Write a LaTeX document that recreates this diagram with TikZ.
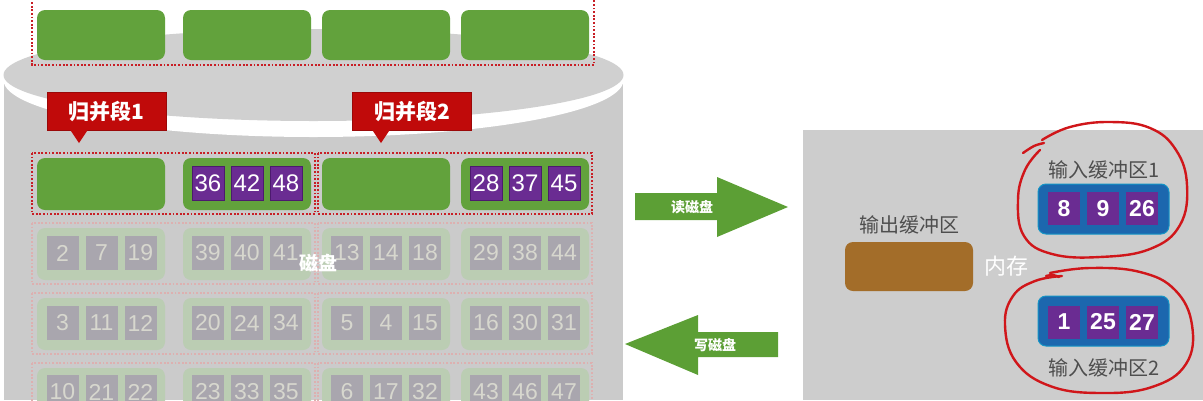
\documentclass[tikz,border=0pt]{standalone}
\usepackage{fontspec}
\setmainfont{Liberation Sans}
\newfontfamily\cjk{Noto Sans CJK SC}
\definecolor{grn}{HTML}{62A23C}
\definecolor{fgrn}{HTML}{BBCDB3}
\definecolor{pur}{HTML}{6A2C92}
\definecolor{purd}{HTML}{4C1A6E}
\definecolor{fpur}{HTML}{A9A6AE}
\definecolor{ftxt}{HTML}{D7D7CE}
\definecolor{diskgray}{HTML}{CBCBCB}
\definecolor{facegray}{HTML}{D0D0D0}
\definecolor{memgray}{HTML}{CDCDCD}
\definecolor{lblred}{HTML}{C00A0A}
\definecolor{dotred}{HTML}{C81E25}
\definecolor{fdot}{HTML}{DDB0B0}
\definecolor{arrgrn}{HTML}{5C9F35}
\definecolor{brown}{HTML}{A36D29}
\definecolor{bufblue}{HTML}{1C67AE}
\definecolor{txtgray}{HTML}{4E4E4E}
\definecolor{inkred}{HTML}{D0161A}
\tikzset{
  grbox/.style={fill=grn, rounded corners=8pt, minimum width=128pt, minimum height=52pt, inner sep=0pt},
  fgrbox/.style={fill=fgrn, rounded corners=8pt, minimum width=128pt, minimum height=52pt, inner sep=0pt},
  sq/.style={fill=pur, draw=purd, line width=0.8pt, minimum width=32pt, minimum height=34pt, inner sep=0pt, text=white, font=\fontsize{24}{24}\selectfont},
  fsq/.style={fill=fpur, minimum width=32pt, minimum height=34pt, inner sep=0pt, text=ftxt, font=\fontsize{23}{23}\selectfont},
  bsq/.style={fill=pur, minimum width=32pt, minimum height=33pt, inner sep=0pt, text=white, font=\bfseries\fontsize{23}{23}\selectfont},
  seg/.style={draw=dotred, line width=2.6pt, dash pattern=on 1.8pt off 1.8pt},
  fseg/.style={draw=fdot, line width=2.2pt, dash pattern=on 1.8pt off 1.8pt},
  lbl/.style={fill=lblred, draw=lblred!80!black, line width=0.6pt, minimum width=119pt, minimum height=38pt, inner sep=0pt, text=white, font=\cjk\bfseries\fontsize{21}{21}\selectfont},
  arrtxt/.style={text=white, font=\cjk\bfseries\fontsize{14}{14}\selectfont},
  memtxt/.style={text=txtgray, font=\cjk\fontsize{20}{20}\selectfont},
  buf/.style={fill=bufblue, draw=bufblue!70!cyan, line width=1pt, rounded corners=8pt, minimum width=131pt, minimum height=50pt, inner sep=0pt},
  ink/.style={draw=inkred, line width=2.4pt, line cap=round, line join=round},
}
\newcommand\sqtrio[7]{%
  \node[#4] (#1a) at (#2-39,#3) {#5};
  \node[#4] (#1b) at (#2,#3) {#6};
  \node[#4] (#1c) at (#2+39,#3) {#7};
}
\begin{document}
\begin{tikzpicture}[x=1pt,y=-1pt]
\useasboundingbox (0,0) rectangle (1203,400);
% ---------------- disk cylinder ----------------
\fill[diskgray] (4,80) rectangle (623,400);
\fill[white] (313.5,80) ellipse [x radius=310, y radius=57];
\fill[facegray] (313.5,75) ellipse [x radius=310, y radius=46];
% top row
\draw[seg] (32,-5) rectangle (594,65);
\node[grbox, minimum height=50pt] (t1) at (101,35) {};
\node[grbox, minimum height=50pt] (t2) at (247,35) {};
\node[grbox, minimum height=50pt] (t3) at (386,35) {};
\node[grbox, minimum height=50pt] (t4) at (525,35) {};
% faded rows
\foreach \k in {1,2,3} {
  \draw[fseg] (32,153+70*\k) rectangle (315,214+70*\k);
  \draw[fseg] (318,153+70*\k) rectangle (592,214+70*\k);
  \node[fgrbox] (f\k a) at (101,184+70*\k) {};
  \node[fgrbox] (f\k b) at (247,184+70*\k) {};
  \node[fgrbox] (f\k c) at (386,184+70*\k) {};
  \node[fgrbox] (f\k d) at (525,184+70*\k) {};
}
\sqtrio{p1a}{101.5}{253}{fsq}{2}{7}{19}
\sqtrio{p1b}{247}{253}{fsq}{39}{40}{41}
\sqtrio{p1c}{386}{253}{fsq}{13}{14}{18}
\sqtrio{p1d}{525}{253}{fsq}{29}{38}{44}
\sqtrio{p2a}{101.5}{323}{fsq}{3}{11}{12}
\sqtrio{p2b}{247}{323}{fsq}{20}{24}{34}
\sqtrio{p2c}{386}{323}{fsq}{5}{4}{15}
\sqtrio{p2d}{525}{323}{fsq}{16}{30}{31}
\sqtrio{p3a}{101.5}{392}{fsq}{10}{21}{22}
\sqtrio{p3b}{247}{392}{fsq}{23}{33}{35}
\sqtrio{p3c}{386}{392}{fsq}{6}{17}{32}
\sqtrio{p3d}{525}{392}{fsq}{43}{46}{47}
\node[text=white, font=\cjk\bfseries\fontsize{19}{19}\selectfont] (disk) at (318,263) {磁盘};
% active row
\draw[seg] (32,153) rectangle (315,214);
\draw[seg] (318,153) rectangle (592,214);
\node[grbox] (g1) at (101,184) {};
\node[grbox] (g2) at (247,184) {};
\node[grbox] (g3) at (386,184) {};
\node[grbox] (g4) at (525,184) {};
\sqtrio{s2}{247}{183}{sq}{36}{42}{48}
\sqtrio{s4}{525}{183}{sq}{28}{37}{45}
% segment labels
\node[lbl] (L1) at (106.5,111) {归并段1};
\fill[lblred] (70,129.5) -- (88,129.5) -- (79,143) -- cycle;
\node[lbl] (L2) at (412,111) {归并段2};
\fill[lblred] (372,129.5) -- (390,129.5) -- (381,143) -- cycle;
% ---------------- arrows ----------------
\fill[arrgrn] (635,193) -- (717,193) -- (717,177) -- (788,207) -- (717,237) -- (717,220) -- (635,220) -- cycle;
\node[arrtxt] (rd) at (692,207) {读磁盘};
\fill[arrgrn] (625,344) -- (698,315) -- (698,332) -- (778,332) -- (778,357) -- (698,357) -- (698,375) -- cycle;
\node[arrtxt] (wr) at (715,345) {写磁盘};
% ---------------- memory ----------------
\fill[memgray] (803,130) rectangle (1203,400);
\node[memtxt] (outl) at (909,225) {输出缓冲区};
\node[fill=brown, rounded corners=8pt, minimum width=128pt, minimum height=49pt, inner sep=0pt] (out) at (909,266.5) {};
\node[text=white, font=\cjk\fontsize{22}{22}\selectfont] (mem) at (1006,266) {内存};
\node[memtxt] (in1l) at (1104,170) {输入缓冲区1};
\node[buf] (in1) at (1103.5,209) {};
\sqtrio{b1}{1103}{208.5}{bsq}{8}{9}{26}
\node[buf] (in2) at (1103.5,321) {};
\sqtrio{b2}{1103}{322}{bsq}{1}{25}{27}
\node[memtxt] (in2l) at (1104,368) {输入缓冲区2};
% ---------------- hand-drawn circles ----------------
\draw[ink] plot[smooth, tension=0.6] coordinates {(1023,153) (1034,146) (1044,143)};
\draw[ink] plot[smooth, tension=0.7] coordinates {(1042,140) (1070,127) (1110,122) (1150,128) (1176,150) (1187,185) (1180,225) (1150,249) (1100,257) (1052,254) (1024,236) (1018,200) (1025,170) (1040,150)};
\draw[ink] plot[smooth, tension=0.6] coordinates {(1046,276) (1053,275) (1059,277)};
\draw[ink] plot[smooth, tension=0.7] coordinates {(1050,273) (1090,268) (1140,272) (1175,290) (1192,325) (1186,364) (1152,387) (1100,393) (1050,386) (1016,362) (1005,325) (1013,296) (1035,281) (1062,276)};
\end{tikzpicture}
\end{document}
